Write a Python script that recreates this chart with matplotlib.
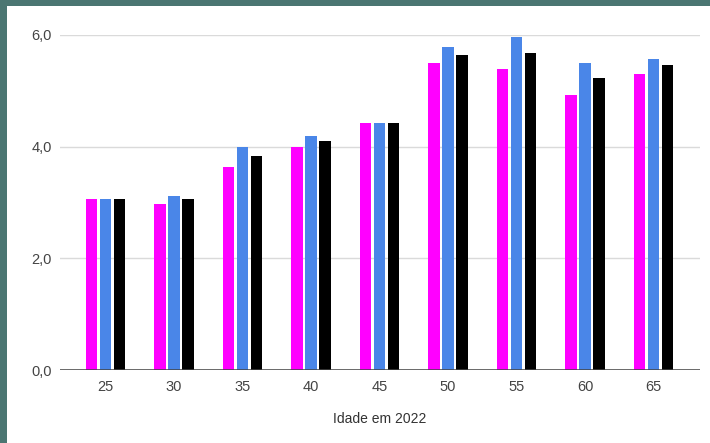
import numpy as np
import matplotlib.pyplot as plt
from matplotlib.patches import Rectangle

# idade em 2022 e os três indicadores por faixa
idades = ["25", "30", "35", "40", "45", "50", "55", "60", "65"]
serie_rosa = [3.07, 2.98, 3.64, 4.00, 4.43, 5.49, 5.40, 4.93, 5.31]
serie_azul = [3.07, 3.12, 4.00, 4.19, 4.43, 5.78, 5.97, 5.49, 5.57]
serie_preta = [3.07, 3.07, 3.84, 4.10, 4.43, 5.64, 5.68, 5.23, 5.47]
yticks = [0.0, 2.0, 4.0, 6.0]

CORES = ["#ff00ff", "#4a86e8", "#000000"]
W, H = 710, 443

plt.rcParams['font.family'] = ['Liberation Sans', 'DejaVu Sans']

fig = plt.figure(figsize=(W / 100, H / 100), dpi=100)
fig.patch.set_facecolor("#4b7672")
# fundo branco do gráfico, deixando a moldura só em cima e à esquerda
fig.patches.append(Rectangle((7 / W, 0), 1, 1 - 6 / H, transform=fig.transFigure,
                             facecolor="white", edgecolor="none", zorder=-10))

ax = fig.add_axes([60 / W, 73 / H, 640 / W, 335 / H])
ax.set_facecolor("none")

x = np.arange(len(idades))
largura = 0.17
passo = 0.205
for i, (vals, cor) in enumerate(zip([serie_rosa, serie_azul, serie_preta], CORES)):
    ax.bar(x + (i - 1) * passo, vals, width=largura, color=cor, zorder=3, clip_on=False)

ax.set_xlim(-0.665, 8.68)
ax.set_ylim(0, 6)
ax.set_yticks(yticks)
ax.set_yticklabels([f"{v:.1f}".replace(".", ",") for v in yticks])
ax.set_xticks(x)
ax.set_xticklabels(idades)

ax.grid(axis="y", color="#dadada", linewidth=1, zorder=0)
ax.axhline(0, color="#444444", linewidth=1.1, zorder=4)
for s in ax.spines.values():
    s.set_visible(False)
ax.tick_params(axis="both", length=0, labelsize=10.5, colors="#444444")
ax.tick_params(axis="y", pad=6)
ax.tick_params(axis="x", pad=7)

fig.text(380 / W, 1 - 419 / H, "Idade em 2022", ha="center", va="center",
         fontsize=10, color="#333333")

fig.savefig("out.png", dpi=100, facecolor=fig.get_facecolor())
